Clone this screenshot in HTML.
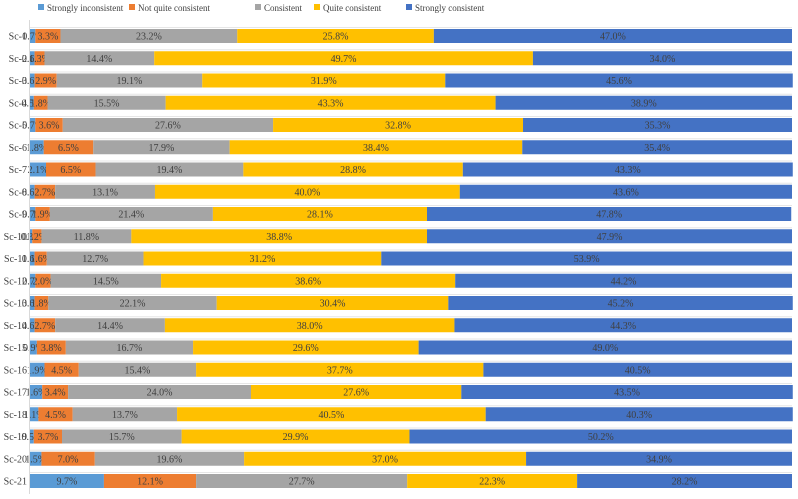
<!DOCTYPE html>
<html><head><meta charset="utf-8"><style>
body{margin:0;background:#fff;}
svg text{font-family:"Liberation Serif",serif;}
</style></head><body>
<svg id="c" width="798" height="494"></svg>
<script>
const categories=["Sc-1","Sc-2","Sc-3","Sc-4","Sc-5","Sc-6","Sc-7","Sc-8","Sc-9","Sc-10","Sc-11","Sc-12","Sc-13","Sc-14","Sc-15","Sc-16","Sc-17","Sc-18","Sc-19","Sc-20","Sc-21"];
const seriesNames=["Strongly inconsistent","Not quite consistent","Consistent","Quite consistent","Strongly consistent"];
const stronglyInconsistent=[0.7,0.6,0.6,0.5,0.7,1.8,2.1,0.6,0.7,0.3,0.6,0.7,0.6,0.6,0.9,1.9,1.6,1.1,0.5,1.5,9.7];
const notQuiteConsistent=[3.3,1.3,2.9,1.8,3.6,6.5,6.5,2.7,1.9,1.2,1.6,2.0,1.8,2.7,3.8,4.5,3.4,4.5,3.7,7.0,12.1];
const consistent=[23.2,14.4,19.1,15.5,27.6,17.9,19.4,13.1,21.4,11.8,12.7,14.5,22.1,14.4,16.7,15.4,24.0,13.7,15.7,19.6,27.7];
const quiteConsistent=[25.8,49.7,31.9,43.3,32.8,38.4,28.8,40.0,28.1,38.8,31.2,38.6,30.4,38.0,29.6,37.7,27.6,40.5,29.9,37.0,22.3];
const stronglyConsistent=[47.0,34.0,45.6,38.9,35.3,35.4,43.3,43.6,47.8,47.9,53.9,44.2,45.2,44.3,49.0,40.5,43.5,40.3,50.2,34.9,28.2];
const series=[stronglyInconsistent,notQuiteConsistent,consistent,quiteConsistent,stronglyConsistent];
const colors=["#5B9BD5","#ED7D31","#A5A5A5","#FFC000","#4472C4"];
const slug=["strongly-inconsistent","not-quite-consistent","consistent","quite-consistent","strongly-consistent"];
const NS="http://www.w3.org/2000/svg";
const svg=document.getElementById('c');
const x0=30,pw=762,y0=36,step=22.25,bh=14;
function xs(v){return x0+v/100*pw;}
function ys(i){return y0+i*step;}
function mk(t,a){const e=document.createElementNS(NS,t);for(const k in a)e.setAttribute(k,a[k]);svg.appendChild(e);return e;}
// legend
const lx=[38,129,255,314,406];
seriesNames.forEach((n,s)=>{
  const g=document.createElementNS(NS,'g');svg.appendChild(g);
  
  
  const r=document.createElementNS(NS,'rect');
  r.setAttribute('x',lx[s]);r.setAttribute('y',4);r.setAttribute('width',6);r.setAttribute('height',6);r.setAttribute('fill',colors[s]);g.appendChild(r);
  const t=document.createElementNS(NS,'text');
  t.setAttribute('x',lx[s]+9);t.setAttribute('y',11);t.setAttribute('font-size','9');t.setAttribute('fill','#404040');t.textContent=n;g.appendChild(t);
});
categories.forEach((c,i)=>{
  const yc=ys(i);
  mk('rect',{x:x0,y:yc-bh/2-2,width:pw,height:1,fill:'#e6e6e6'});
  const lab=mk('text',{x:27,y:yc+3.5,'font-size':'10','text-anchor':'end',fill:'#404040'});
  lab.textContent=c;
  
  
  let acc=0;
  series.forEach((arr,s)=>{
    const v=arr[i];
    const r=mk('rect',{x:xs(acc),y:yc-bh/2,width:xs(acc+v)-xs(acc),height:bh,fill:colors[s]});
    
    
    const t=mk('text',{x:(xs(acc)+xs(acc+v))/2,y:yc+3.5,'font-size':'10','text-anchor':'middle',fill:'#404040'});
    t.textContent=v.toFixed(1)+'%';
    
    
    acc+=v;
  });
});
const ax=mk('rect',{x:x0-1,y:20,width:1,height:474,fill:'#d9d9d9'});


</script>
</body></html>
